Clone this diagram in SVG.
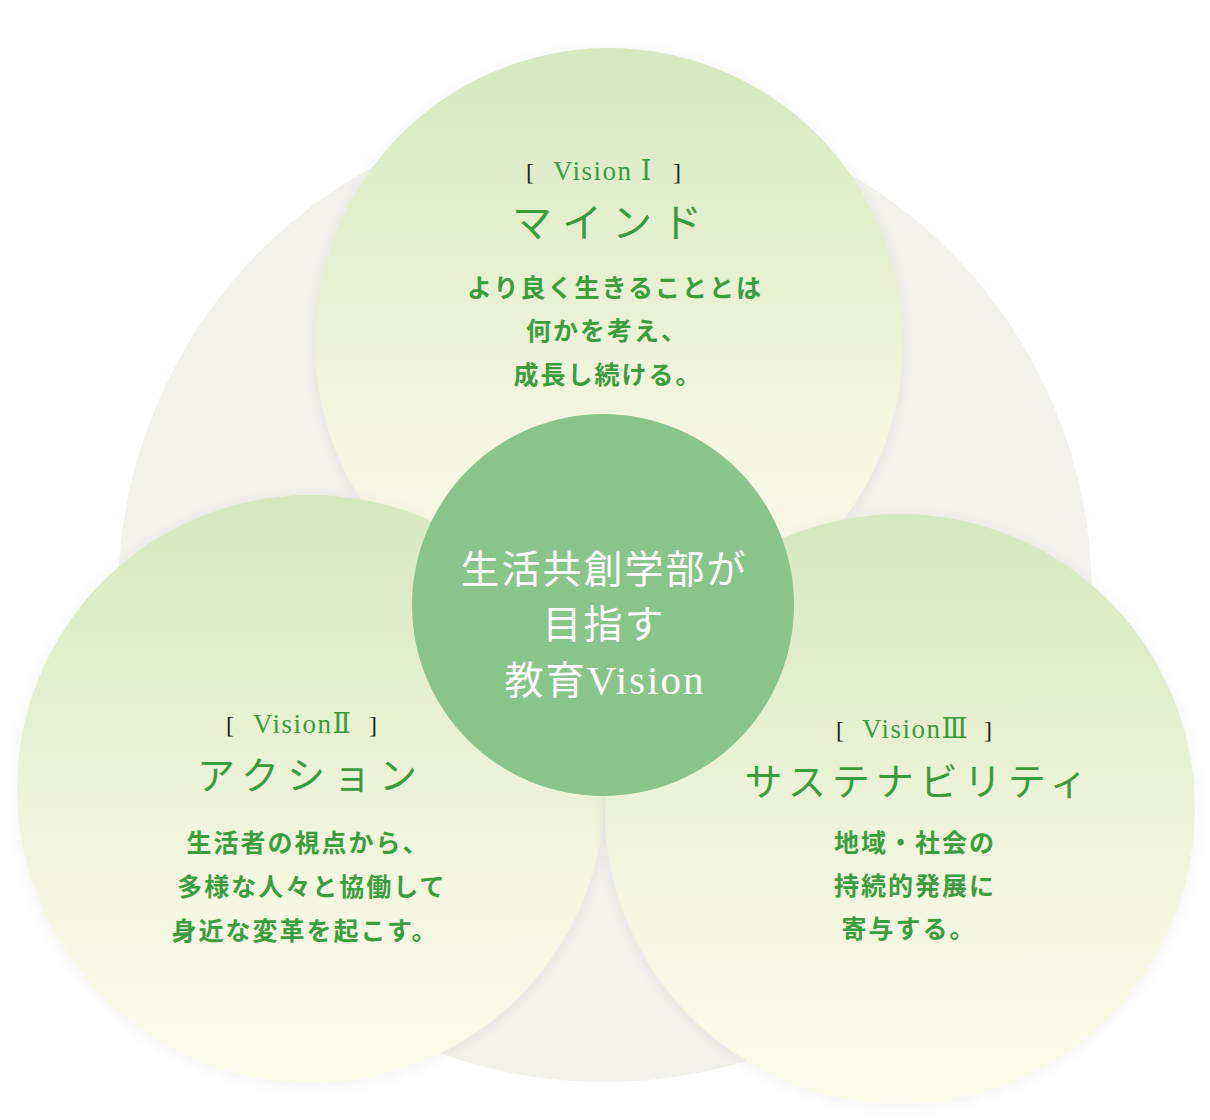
<svg xmlns="http://www.w3.org/2000/svg" width="1210" height="1120" viewBox="0 0 1210 1120">
<defs>
<linearGradient id="g" x1="0" y1="0" x2="0" y2="1">
<stop offset="0" stop-color="#d6e8bf"/>
<stop offset="0.7" stop-color="#f6f7e1"/>
<stop offset="1" stop-color="#fafae9"/>
</linearGradient>
<filter id="sh" x="-10%" y="-10%" width="120%" height="120%">
<feDropShadow dx="0" dy="2" stdDeviation="7" flood-color="#000" flood-opacity="0.06"/>
</filter>
<filter id="grain" x="0" y="0" width="100%" height="100%">
<feTurbulence type="fractalNoise" baseFrequency="0.9" numOctaves="2" seed="3" result="n"/>
<feColorMatrix in="n" type="matrix" values="0 0 0 0 0.6  0 0 0 0 0.6  0 0 0 0 0.55  0 0 0 0.07 0" result="m"/>
<feComposite in="m" in2="SourceGraphic" operator="in" result="t"/>
<feMerge><feMergeNode in="SourceGraphic"/><feMergeNode in="t"/></feMerge>
</filter>
</defs>
<style>
.bg{fill:#f4f3ee}
.vc{fill:url(#g)}
.ctr{fill:#89c48a}
.br{font-family:"Liberation Serif","Noto Sans CJK JP",serif;font-size:24px;fill:#222}
.vs{font-family:"Liberation Serif","DejaVu Serif","Noto Sans CJK JP",serif;font-size:27px;fill:#3a9b3f;letter-spacing:1.5px}
.tt{font-family:"Noto Sans CJK JP",sans-serif;font-weight:400;fill:#3a9b3f;text-anchor:middle}
.bd{font-family:"Noto Sans CJK JP",sans-serif;font-weight:700;font-size:25px;fill:#3c9d3f;text-anchor:middle;letter-spacing:2px}
.ct{font-family:"Noto Sans CJK JP",sans-serif;font-size:39px;fill:#fff;text-anchor:middle;letter-spacing:2px}
.ctv{font-family:"Liberation Serif",serif;font-size:41px}
</style>
<g id="background">
<circle class="bg" cx="605" cy="595" r="487" filter="url(#grain)"/>
</g>
<g id="connectors"></g>
<g id="vision1">
<circle class="vc" cx="609" cy="342" r="294" filter="url(#sh)"/>
<text class="br" x="526" y="180">[</text>
<text class="vs" x="553" y="180">Vision Ⅰ</text>
<text class="br" x="673" y="180">]</text>
<text class="tt" x="612" y="237" font-size="40" letter-spacing="10">マインド</text>
<text class="bd" x="615" y="297">より良く生きることとは</text>
<text class="bd" x="607" y="340">何かを考え、</text>
<text class="bd" x="608" y="384">成長し続ける。</text>
</g>
<g id="vision2">
<circle class="vc" cx="311" cy="789" r="294" filter="url(#sh)"/>
<text class="br" x="226" y="733">[</text>
<text class="vs" x="253" y="733">VisionⅡ</text>
<text class="br" x="369" y="733">]</text>
<text class="tt" x="311" y="789" font-size="38" letter-spacing="8">アクション</text>
<text class="bd" x="308" y="852">生活者の視点から、</text>
<text class="bd" x="312" y="896">多様な人々と協働して</text>
<text class="bd" x="305" y="940">身近な変革を起こす。</text>
</g>
<g id="vision3">
<circle class="vc" cx="900" cy="809" r="295" filter="url(#sh)"/>
<text class="br" x="836" y="738">[</text>
<text class="vs" x="862" y="738">VisionⅢ</text>
<text class="br" x="984" y="738">]</text>
<text class="tt" x="919" y="795" font-size="38" letter-spacing="6">サステナビリティ</text>
<text class="bd" x="915" y="852">地域・社会の</text>
<text class="bd" x="915" y="895">持続的発展に</text>
<text class="bd" x="909" y="938">寄与する。</text>
</g>
<g id="center">
<circle class="ctr" cx="603" cy="605" r="191"/>
<text class="ct" x="604" y="583">生活共創学部が</text>
<text class="ct" x="604" y="638">目指す</text>
<text class="ct" x="605" y="694">教育<tspan class="ctv">Vision</tspan></text>
</g>
</svg>
